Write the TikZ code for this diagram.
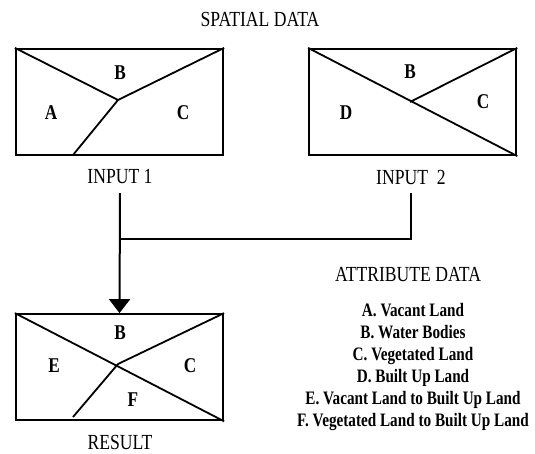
\documentclass[tikz,border=0pt]{standalone}
\usepackage{fontspec}
\setmainfont[FakeStretch=0.82]{Liberation Serif}
\newfontfamily\attrfont[FakeStretch=0.8]{Liberation Serif}
\usepackage{tikz}
\usetikzlibrary{positioning, arrows.meta}
\tikzstyle{mapbox} = [draw, line width=2.2pt, minimum width=207pt, minimum height=106pt, inner sep=0pt]
\tikzstyle{zone} = [font=\fontsize{21}{21}\selectfont\bfseries]
\tikzstyle{caption} = [font=\fontsize{21.5}{21.5}\selectfont, outer sep=5.5pt]
\tikzstyle{arrow} = [line width=2pt, -{Triangle[length=14pt,width=21pt]}]

\begin{document}
\begin{tikzpicture}[x=1pt, y=-1pt, line join=miter]
	\useasboundingbox (0,0) rectangle (535,453);
	\node[caption]  (title)  at (260,19)  {SPATIAL DATA};
	\node[mapbox]   (in1)    at (119.5,102) {};
	\node[mapbox]   (in2)    [right=84pt of in1] {};
	\node[mapbox]   (res)    [below=157pt of in1] {};
	\node[caption]  (cap1)   at (120,177) {INPUT 1};
	\node[caption]  (cap2)   at (411,177) {INPUT\ \ 2};
	\node[caption]  (cap3)   at (120,442) {RESULT};
	% zone borders
	\coordinate (m1) at (118,100);
	\coordinate (b1) at (73,155);
	\coordinate (m2) at (410,102);
	\coordinate (m3) at (118,364);
	\coordinate (b3) at (73,417);
	\draw[line width=1.8pt] (in1.north west) -- (m1) -- (in1.north east) (m1) -- (b1);
	\draw[line width=1.8pt] (in2.north west) -- (in2.south east) (m2) -- (in2.north east);
	\draw[line width=1.8pt] (res.north west) -- (res.south east) (res.north east) -- (m3) -- (b3);
	% zone letters
	\node[zone] (a1) at (51,113)  {A};
	\node[zone] (b1) at (120,73)  {B};
	\node[zone] (c1) at (183,113) {C};
	\node[zone] (b2) at (410,72)  {B};
	\node[zone] (d2) at (346,113) {D};
	\node[zone] (c2) at (483,102) {C};
	\node[zone] (b3) at (120,333) {B};
	\node[zone] (e3) at (54,366)  {E};
	\node[zone] (c3) at (190,366) {C};
	\node[zone] (f3) at (133,400) {F};
	% overlay
	\coordinate (j1) at (120,239);
	\draw[arrow] (cap1.south) -- (res.north);
	\draw[line width=2pt] (cap2.south) |- (j1);
	\node[caption] (attr) at (408,275) {ATTRIBUTE DATA};
	\node[font=\attrfont\fontsize{19}{22}\selectfont\bfseries, align=center] (list) at (413,367)
		{A. Vacant Land\\B. Water Bodies\\C. Vegetated Land\\D. Built Up Land\\
		 E. Vacant Land to Built Up Land\\F. Vegetated Land to Built Up Land};
\end{tikzpicture}
\end{document}
